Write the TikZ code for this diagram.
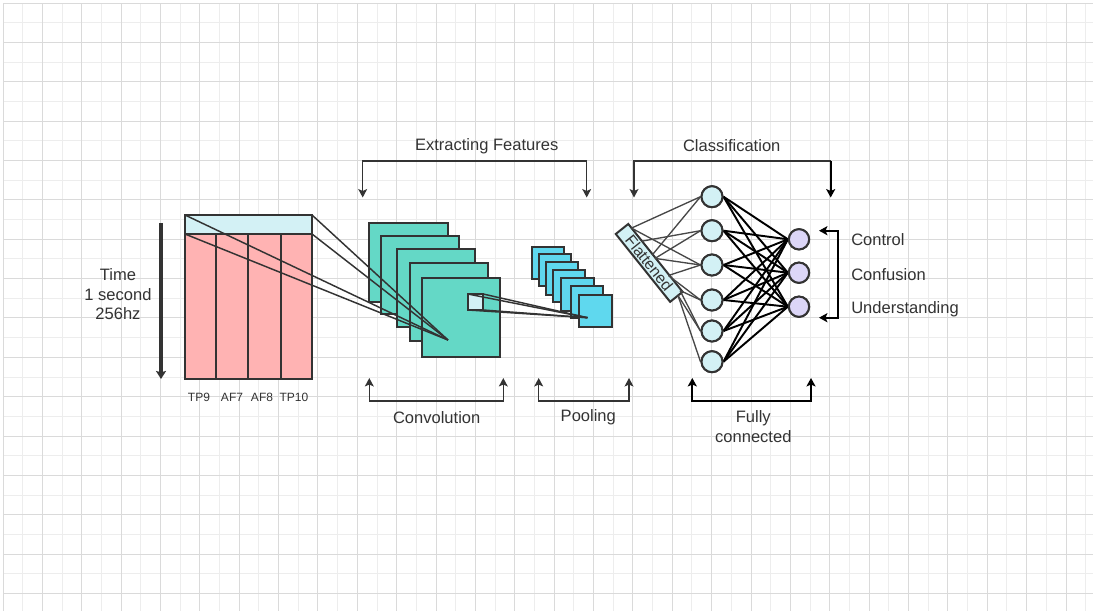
\documentclass[tikz,border=0pt]{standalone}
\usepackage{fontspec}
\setmainfont{Liberation Sans}
\usetikzlibrary{arrows.meta}
\definecolor{txt}{HTML}{333333}
\definecolor{edge}{HTML}{333333}
\definecolor{gmin}{HTML}{EDEDED}
\definecolor{gmaj}{HTML}{DADADA}
\definecolor{hdrfill}{HTML}{D3F1F5}
\definecolor{bodyfill}{HTML}{FFB3B3}
\definecolor{convfill}{HTML}{64D8C6}
\definecolor{poolfill}{HTML}{5FD8EE}
\definecolor{outfill}{HTML}{DCD6F7}
\tikzset{
  gminor/.style={draw=gmin, line width=0.75pt},
  gmajor/.style={draw=gmaj, line width=0.75pt},
  shapebox/.style={draw=edge, line width=1.5pt, inner sep=0pt, outer sep=0pt},
  convbox/.style={shapebox, fill=convfill, minimum size=58.9pt},
  poolbox/.style={shapebox, fill=poolfill, minimum size=24.4pt},
  hidnode/.style={circle, draw=edge, line width=1.5pt, fill=hdrfill, minimum size=15.75pt, inner sep=0pt},
  outnode/.style={circle, draw=edge, line width=1.5pt, fill=outfill, minimum size=15.2pt, inner sep=0pt},
  link/.style={draw=edge, line width=1.1pt},
  flink/.style={draw=edge!90, line width=1pt},
  nlink/.style={draw=black, line width=1.45pt},
  brk/.style={draw=edge, line width=1.1pt, {Stealth[length=6.3pt,width=6.6pt,inset=1.4pt]}-{Stealth[length=6.3pt,width=6.6pt,inset=1.4pt]}},
  brkstart/.style={draw=edge, line width=1.1pt, {Stealth[length=6.3pt,width=6.6pt,inset=1.4pt]}-},
  brkendb/.style={draw=black, line width=1.5pt, -{Stealth[length=6.3pt,width=6.8pt,inset=1.4pt]}},
  brkb/.style={draw=black, line width=1.5pt, {Stealth[length=6.3pt,width=6.8pt,inset=1.4pt]}-{Stealth[length=6.3pt,width=6.8pt,inset=1.4pt]}},
  lbl/.style={text=txt, inner sep=0pt, font=\fontsize{12.4}{14.6}\selectfont},
  small/.style={text=txt, inner sep=0pt, font=\fontsize{9}{11}\selectfont},
}
\begin{document}
\begin{tikzpicture}[x=0.75pt,y=-0.75pt]
\useasboundingbox (0,0) rectangle (1093,611);
\fill[white] (0,0) rectangle (1093,611);
% grid
\foreach \i in {1,3,...,55} \draw[gminor] ({3+19.685*\i},3) -- ({3+19.685*\i},611);
\foreach \j in {1,3,...,29} \draw[gminor] (3,{3+19.685*\j}) -- (1093,{3+19.685*\j});
\foreach \i in {0,2,...,54} \draw[gmajor] ({3+19.685*\i},3) -- ({3+19.685*\i},611);
\foreach \j in {0,2,...,30} \draw[gmajor] (3,{3+19.685*\j}) -- (1093,{3+19.685*\j});

% time arrow and label
\coordinate (ta) at (161,223);
\coordinate (tb) at (161,379);
\draw[draw=edge, line width=3pt, -{Stealth[length=6pt,width=7.5pt,inset=1pt]}] (ta) -- (tb);
\node[lbl, align=center] (time) at (118,294.5) {Time\\1 second\\256hz};

% table
\node[shapebox, fill=bodyfill, minimum width=95.25pt, minimum height=123pt] (body) at (248.5,296.5) {};
\node[shapebox, fill=hdrfill, minimum width=95.25pt, minimum height=14.25pt] (hdr) at (248.5,224.5) {};
\foreach \cx in {216,248.3,280.7} \draw[draw=edge, line width=1.5pt] (\cx,234) -- (\cx,378);
\node[small] (l1) at (199,397) {TP9};
\node[small] (l2) at (232,397) {AF7};
\node[small] (l3) at (262,397) {AF8};
\node[small] (l4) at (294,397) {TP10};

% convolution layers
\node[convbox] (c1) at (408.5,262.5) {};
\node[convbox] (c2) at (420,275) {};
\node[convbox] (c3) at (436,288) {};
\node[convbox] (c4) at (449,302) {};
\node[convbox] (c5) at (461,317.5) {};
\node[shapebox, fill=hdrfill, minimum width=11.5pt, minimum height=12pt] (win) at (475.5,302) {};
\coordinate (cv) at (448,340);

% pooling layers
\node[poolbox] (p1) at (548.2,263) {};
\node[poolbox] (p2) at (555,270.2) {};
\node[poolbox] (p3) at (562,278.5) {};
\node[poolbox] (p4) at (569.2,286.2) {};
\node[poolbox] (p5) at (577.5,294.5) {};
\node[poolbox] (p6) at (587,302.2) {};
\node[poolbox] (p7) at (595.5,311.2) {};
\coordinate (pv) at (587.5,317.7);

% links table -> conv
\draw[link] (hdr.north west) -- (cv);
\draw[link] (hdr.south west) -- (cv);
\draw[link] (hdr.north east) -- (cv);
\draw[link] (hdr.south east) -- (cv);
% links window -> pool
\draw[link] (win.north west) -- (pv);
\draw[link] (win.north east) -- (pv);
\draw[link] (win.south west) -- (pv);
\draw[link] (win.south east) -- (pv);

% flattened
\node[shapebox, fill=hdrfill, rotate=-51.3, minimum width=65.2pt, minimum height=12pt, font=\fontsize{11.8}{13}\selectfont, text=txt] (fl) at (649.2,262.9) {Flattened};

% hidden and output nodes
\node[hidnode] (h1) at (712,196.7) {};
\node[hidnode] (h2) at (712,230.7) {};
\node[hidnode] (h3) at (712,265) {};
\node[hidnode] (h4) at (712,300) {};
\node[hidnode] (h5) at (712,331) {};
\node[hidnode] (h6) at (712,361.7) {};
\node[outnode] (o1) at (799,239.3) {};
\node[outnode] (o2) at (799,272.7) {};
\node[outnode] (o3) at (799,306.7) {};

% flattened -> hidden
\coordinate (f1) at (631.5,228.1);
\coordinate (f2) at (641.7,241.2);
\coordinate (f3) at (652.3,254.9);
\coordinate (f4) at (655,258.4);
\coordinate (f5) at (668.4,275.5);
\coordinate (f6) at (680.1,290.6);
\coordinate (f7) at (678,295.5);
\draw[flink] (f1) -- (h1.west);
\draw[flink] (f1) -- (h3.west);
\draw[flink] (f2) -- (h2.west);
\draw[flink] (f3) -- (h1.west);
\draw[flink] (f4) -- (h2.west);
\draw[flink] (f4) -- (h3.west);
\draw[flink] (f5) -- (h3.west);
\draw[flink] (f5) -- (h4.west);
\draw[flink] (f6) -- (h4.west);
\draw[flink] (f6) -- (h5.west);
\draw[flink] (f7) -- (h5.west);
\draw[flink] (f7) -- (h6.west);

% hidden -> output
\foreach \h in {h1,h2,h3,h4,h5,h6}
  \foreach \o in {o1,o2,o3}
    \draw[nlink] (\h.east) -- (\o.west);
% redraw nodes on top
\foreach \y in {196.7,230.7,265,300,331,361.7}
  \node[hidnode] at (712,\y) {};
\foreach \y in {239.3,272.7,306.7}
  \node[outnode] at (799,\y) {};

% brackets
\coordinate (e1) at (362.7,197.5); \coordinate (e2) at (586.7,197.5);
\draw[brk] (e1) -- (362.7,161) -- (586.7,161) -- (e2);
\node[lbl] (ef) at (486.7,146) {Extracting Features};
\coordinate (k1) at (634,197.5); \coordinate (k2) at (830.7,197.5);
\coordinate (kc) at (830.7,161);
\draw[brkstart] (k1) -- (634,161) -- (kc);
\draw[brkendb] (kc) -- (k2);
\node[lbl] (cl) at (731.7,146) {Classification};
\coordinate (v1) at (369.3,378); \coordinate (v2) at (503.3,378);
\draw[brk] (v1) -- (369.3,401) -- (503.3,401) -- (v2);
\node[lbl] (cvl) at (436.7,417.3) {Convolution};
\coordinate (q1) at (538.7,378); \coordinate (q2) at (629,378);
\draw[brk] (q1) -- (538.7,401) -- (629,401) -- (q2);
\node[lbl] (pl) at (588.3,417.3) {Pooling};
\coordinate (u1) at (692.3,378); \coordinate (u2) at (811,378);
\draw[brkb] (u1) -- (692.3,401) -- (811,401) -- (u2);
\node[lbl, align=center] (fc) at (753.3,426.7) {Fully\\connected};
\coordinate (r1) at (819,230.7); \coordinate (r2) at (819,317.7);
\draw[brkb] (r1) -- (838.3,230.7) -- (838.3,317.7) -- (r2);
\node[lbl, anchor=west] (t1) at (851,239.3) {Control};
\node[lbl, anchor=west] (t2) at (851,275) {Confusion};
\node[lbl, anchor=west] (t3) at (851,309.3) {Understanding};
\end{tikzpicture}
\end{document}
